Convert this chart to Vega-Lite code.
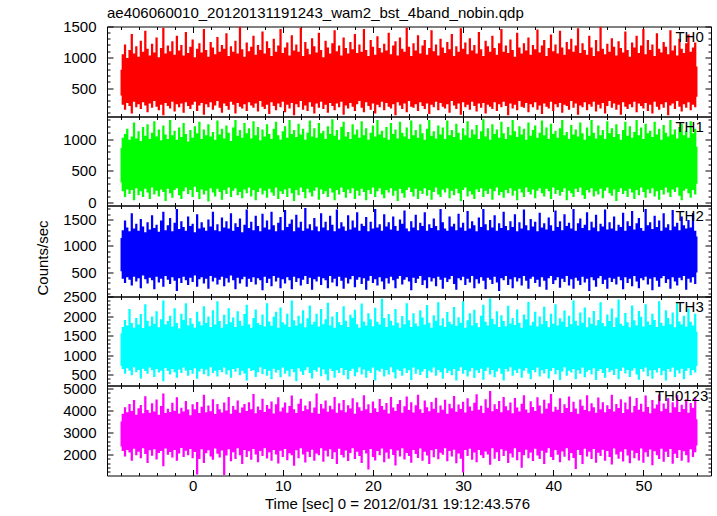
{
"$schema":"https://vega.github.io/schema/vega-lite/v6.json",
"padding":{"left":35,"top":5.5,"right":0,"bottom":0},
"background":"white",
"spacing":0,
"bounds":"flush",
"config":{"font":"Liberation Sans","view":{"stroke":"black","strokeWidth":1},
"axis":{"domain":false,"grid":false,"tickColor":"black","labelColor":"black","labelFontSize":15,"labelFont":"Liberation Sans","titleFont":"Liberation Sans","titleFontSize":15,"titleFontWeight":"normal","titleColor":"black","labelOverlap":false,"labelFlush":false,"zindex":1,"tickWidth":1,"format":"d"}},
"datasets":{"lc":[
{"t":-8,"l0":380,"h0":800,"l1":320,"h1":860,"l2":520,"h2":1150,"l3":720,"h3":1550,"l4":2350,"h4":3500},
{"t":-7.75,"l0":230,"h0":1050,"l1":180,"h1":1020,"l2":380,"h2":1300,"l3":640,"h3":1720,"l4":2150,"h4":3850},
{"t":-7.5,"l0":150,"h0":1210,"l1":90,"h1":1080,"l2":300,"h2":1480,"l3":520,"h3":1900,"l4":1900,"h4":4150},
{"t":-7.25,"l0":260,"h0":990,"l1":210,"h1":1160,"l2":410,"h2":1350,"l3":660,"h3":1760,"l4":2200,"h4":3920},
{"t":-7,"l0":210,"h0":1120,"l1":140,"h1":990,"l2":360,"h2":1280,"l3":600,"h3":2180,"l4":2080,"h4":4300},
{"t":-6.75,"l0":90,"h0":1380,"l1":200,"h1":1040,"l2":250,"h2":1620,"l3":480,"h3":1820,"l4":1700,"h4":3980},
{"t":-6.5,"l0":280,"h0":1060,"l1":40,"h1":1260,"l2":420,"h2":1330,"l3":690,"h3":1700,"l4":2250,"h4":4480},
{"t":-6.25,"l0":190,"h0":1180,"l1":230,"h1":1010,"l2":330,"h2":1420,"l3":560,"h3":1950,"l4":1950,"h4":3800},
{"t":-6,"l0":240,"h0":1010,"l1":120,"h1":1120,"l2":390,"h2":1290,"l3":620,"h3":1780,"l4":2120,"h4":4100},
{"t":-5.75,"l0":160,"h0":1270,"l1":180,"h1":970,"l2":200,"h2":1510,"l3":400,"h3":2050,"l4":1820,"h4":4250},
{"t":-5.5,"l0":270,"h0":1090,"l1":90,"h1":1190,"l2":440,"h2":1370,"l3":650,"h3":1690,"l4":2280,"h4":3870},
{"t":-5.25,"l0":220,"h0":1430,"l1":220,"h1":1050,"l2":370,"h2":1260,"l3":590,"h3":2300,"l4":2010,"h4":4650},
{"t":-5,"l0":110,"h0":1140,"l1":160,"h1":1230,"l2":290,"h2":1450,"l3":520,"h3":1880,"l4":1600,"h4":4020},
{"t":-4.75,"l0":250,"h0":1030,"l1":60,"h1":1000,"l2":400,"h2":1310,"l3":680,"h3":1740,"l4":2180,"h4":3900},
{"t":-4.5,"l0":180,"h0":1220,"l1":240,"h1":1100,"l2":350,"h2":1580,"l3":610,"h3":1990,"l4":1930,"h4":4330},
{"t":-4.25,"l0":290,"h0":1080,"l1":130,"h1":1280,"l2":180,"h2":1340,"l3":440,"h3":1800,"l4":2230,"h4":3950},
{"t":-4,"l0":200,"h0":1320,"l1":190,"h1":1040,"l2":420,"h2":1400,"l3":640,"h3":2120,"l4":1760,"h4":4500},
{"t":-3.75,"l0":140,"h0":1000,"l1":100,"h1":1150,"l2":310,"h2":1270,"l3":550,"h3":1710,"l4":2060,"h4":3800},
{"t":-3.5,"l0":230,"h0":1150,"l1":210,"h1":980,"l2":380,"h2":1480,"l3":600,"h3":1920,"l4":2150,"h4":4200},
{"t":-3.25,"l0":60,"h0":1480,"l1":170,"h1":1210,"l2":230,"h2":1650,"l3":330,"h3":2400,"l4":1450,"h4":4780},
{"t":-3,"l0":260,"h0":1060,"l1":30,"h1":1070,"l2":430,"h2":1300,"l3":670,"h3":1780,"l4":2260,"h4":3880},
{"t":-2.75,"l0":210,"h0":1190,"l1":220,"h1":1000,"l2":360,"h2":1390,"l3":590,"h3":1870,"l4":1980,"h4":4080},
{"t":-2.5,"l0":170,"h0":1100,"l1":150,"h1":1300,"l2":280,"h2":1530,"l3":500,"h3":2010,"l4":2100,"h4":3930},
{"t":-2.25,"l0":280,"h0":1260,"l1":80,"h1":1060,"l2":410,"h2":1280,"l3":640,"h3":1730,"l4":1850,"h4":4350},
{"t":-2,"l0":120,"h0":1040,"l1":200,"h1":1130,"l2":340,"h2":1440,"l3":560,"h3":2200,"l4":2200,"h4":3990},
{"t":-1.75,"l0":240,"h0":1350,"l1":230,"h1":990,"l2":150,"h2":1700,"l3":420,"h3":1820,"l4":1700,"h4":4600},
{"t":-1.5,"l0":190,"h0":1110,"l1":120,"h1":1180,"l2":390,"h2":1320,"l3":630,"h3":1680,"l4":2030,"h4":3860},
{"t":-1.25,"l0":250,"h0":1200,"l1":60,"h1":1030,"l2":300,"h2":1470,"l3":540,"h3":2060,"l4":2290,"h4":4120},
{"t":-1,"l0":100,"h0":1030,"l1":180,"h1":1250,"l2":420,"h2":1360,"l3":680,"h3":1900,"l4":1880,"h4":3950},
{"t":-0.75,"l0":270,"h0":1410,"l1":240,"h1":1080,"l2":350,"h2":1290,"l3":600,"h3":2330,"l4":2160,"h4":4430},
{"t":-0.5,"l0":210,"h0":1070,"l1":140,"h1":960,"l2":260,"h2":1560,"l3":470,"h3":1760,"l4":1960,"h4":4040},
{"t":-0.25,"l0":160,"h0":1170,"l1":200,"h1":1140,"l2":400,"h2":1380,"l3":620,"h3":1950,"l4":2240,"h4":3780},
{"t":0,"l0":230,"h0":1290,"l1":90,"h1":1020,"l2":320,"h2":1420,"l3":520,"h3":1800,"l4":1820,"h4":4280},
{"t":0.25,"l0":280,"h0":1000,"l1":250,"h1":1200,"l2":440,"h2":1260,"l3":660,"h3":1700,"l4":2100,"h4":4050},
{"t":0.5,"l0":130,"h0":1140,"l1":170,"h1":1090,"l2":230,"h2":1600,"l3":390,"h3":2110,"l4":1080,"h4":4390},
{"t":0.75,"l0":220,"h0":1230,"l1":60,"h1":1270,"l2":370,"h2":1330,"l3":580,"h3":1860,"l4":1780,"h4":3880},
{"t":1,"l0":260,"h0":1080,"l1":210,"h1":1000,"l2":410,"h2":1450,"l3":650,"h3":1760,"l4":2230,"h4":4170},
{"t":1.25,"l0":70,"h0":1460,"l1":130,"h1":1150,"l2":290,"h2":1350,"l3":510,"h3":2250,"l4":1600,"h4":4720},
{"t":1.5,"l0":240,"h0":1120,"l1":190,"h1":1060,"l2":380,"h2":1290,"l3":630,"h3":1820,"l4":2050,"h4":3920},
{"t":1.75,"l0":190,"h0":1010,"l1":20,"h1":1230,"l2":190,"h2":1500,"l3":460,"h3":1990,"l4":2180,"h4":4230},
{"t":2,"l0":270,"h0":1250,"l1":230,"h1":1040,"l2":430,"h2":1370,"l3":690,"h3":1720,"l4":1900,"h4":3960},
{"t":2.25,"l0":150,"h0":1160,"l1":160,"h1":1110,"l2":330,"h2":1650,"l3":540,"h3":2150,"l4":1750,"h4":4510},
{"t":2.5,"l0":220,"h0":1050,"l1":100,"h1":990,"l2":400,"h2":1300,"l3":600,"h3":1780,"l4":2260,"h4":3840},
{"t":2.75,"l0":290,"h0":1330,"l1":220,"h1":1290,"l2":270,"h2":1410,"l3":450,"h3":2380,"l4":2020,"h4":4290},
{"t":3,"l0":180,"h0":1090,"l1":170,"h1":1070,"l2":360,"h2":1280,"l3":620,"h3":1870,"l4":1850,"h4":4060},
{"t":3.25,"l0":100,"h0":1200,"l1":50,"h1":1160,"l2":420,"h2":1540,"l3":560,"h3":1700,"l4":2170,"h4":3910},
{"t":3.5,"l0":250,"h0":1140,"l1":200,"h1":1010,"l2":240,"h2":1350,"l3":680,"h3":2030,"l4":1050,"h4":4360},
{"t":3.75,"l0":210,"h0":1390,"l1":140,"h1":1210,"l2":390,"h2":1470,"l3":500,"h3":1790,"l4":1940,"h4":4000},
{"t":4,"l0":150,"h0":1020,"l1":240,"h1":1100,"l2":310,"h2":1330,"l3":610,"h3":2200,"l4":2230,"h4":4620},
{"t":4.25,"l0":280,"h0":1180,"l1":90,"h1":970,"l2":440,"h2":1620,"l3":420,"h3":1840,"l4":1680,"h4":3850},
{"t":4.5,"l0":230,"h0":1090,"l1":190,"h1":1180,"l2":350,"h2":1290,"l3":640,"h3":1960,"l4":2090,"h4":4200},
{"t":4.75,"l0":90,"h0":1270,"l1":230,"h1":1300,"l2":180,"h2":1430,"l3":570,"h3":1720,"l4":1780,"h4":4030},
{"t":5,"l0":260,"h0":1060,"l1":120,"h1":1050,"l2":400,"h2":1360,"l3":670,"h3":2120,"l4":2270,"h4":4450},
{"t":5.25,"l0":200,"h0":1490,"l1":170,"h1":1140,"l2":290,"h2":1520,"l3":480,"h3":1880,"l4":1960,"h4":3900},
{"t":5.5,"l0":170,"h0":1130,"l1":70,"h1":1020,"l2":370,"h2":1260,"l3":600,"h3":1750,"l4":1550,"h4":4130},
{"t":5.75,"l0":240,"h0":1010,"l1":210,"h1":1250,"l2":420,"h2":1400,"l3":530,"h3":2050,"l4":2200,"h4":4290},
{"t":6,"l0":130,"h0":1240,"l1":150,"h1":1090,"l2":230,"h2":1690,"l3":350,"h3":2290,"l4":1870,"h4":3980},
{"t":6.25,"l0":270,"h0":1100,"l1":240,"h1":1170,"l2":380,"h2":1340,"l3":660,"h3":1790,"l4":2140,"h4":4370},
{"t":6.5,"l0":220,"h0":1170,"l1":100,"h1":1010,"l2":320,"h2":1460,"l3":590,"h3":1700,"l4":1750,"h4":4060},
{"t":6.75,"l0":180,"h0":1350,"l1":200,"h1":1280,"l2":410,"h2":1300,"l3":620,"h3":1950,"l4":2240,"h4":4750},
{"t":7,"l0":250,"h0":1040,"l1":40,"h1":1060,"l2":270,"h2":1570,"l3":440,"h3":2170,"l4":1990,"h4":3870},
{"t":7.25,"l0":120,"h0":1200,"l1":170,"h1":1190,"l2":390,"h2":1380,"l3":560,"h3":1820,"l4":1640,"h4":4180},
{"t":7.5,"l0":290,"h0":1120,"l1":230,"h1":980,"l2":350,"h2":1280,"l3":690,"h3":1770,"l4":2150,"h4":4020},
{"t":7.75,"l0":200,"h0":1420,"l1":130,"h1":1150,"l2":160,"h2":1610,"l3":510,"h3":2040,"l4":1920,"h4":4540},
{"t":8,"l0":160,"h0":1060,"l1":190,"h1":1040,"l2":420,"h2":1350,"l3":640,"h3":1730,"l4":2280,"h4":3930},
{"t":8.25,"l0":230,"h0":1260,"l1":80,"h1":1230,"l2":300,"h2":1480,"l3":470,"h3":2330,"l4":1810,"h4":4250},
{"t":8.5,"l0":80,"h0":1150,"l1":220,"h1":1080,"l2":380,"h2":1310,"l3":600,"h3":1860,"l4":2090,"h4":4080},
{"t":8.75,"l0":270,"h0":1020,"l1":160,"h1":1000,"l2":240,"h2":1650,"l3":380,"h3":1750,"l4":1700,"h4":4410},
{"t":9,"l0":210,"h0":1300,"l1":110,"h1":1160,"l2":430,"h2":1390,"l3":650,"h3":1980,"l4":2200,"h4":3860},
{"t":9.25,"l0":140,"h0":1090,"l1":240,"h1":1270,"l2":330,"h2":1280,"l3":550,"h3":2110,"l4":1990,"h4":4280},
{"t":9.5,"l0":250,"h0":1190,"l1":60,"h1":1060,"l2":400,"h2":1440,"l3":620,"h3":1700,"l4":1580,"h4":4600},
{"t":9.75,"l0":190,"h0":1460,"l1":180,"h1":990,"l2":200,"h2":1550,"l3":430,"h3":2220,"l4":2160,"h4":3950},
{"t":10,"l0":280,"h0":1070,"l1":140,"h1":1120,"l2":370,"h2":1300,"l3":680,"h3":1840,"l4":1870,"h4":4140},
{"t":10.25,"l0":110,"h0":1160,"l1":210,"h1":1200,"l2":290,"h2":1680,"l3":520,"h3":1780,"l4":2240,"h4":4360},
{"t":10.5,"l0":230,"h0":1240,"l1":90,"h1":1020,"l2":410,"h2":1360,"l3":600,"h3":2060,"l4":1730,"h4":3900},
{"t":10.75,"l0":170,"h0":1030,"l1":230,"h1":1300,"l2":350,"h2":1420,"l3":450,"h3":1720,"l4":2050,"h4":4200},
{"t":11,"l0":260,"h0":1360,"l1":150,"h1":1080,"l2":180,"h2":1500,"l3":640,"h3":2400,"l4":1950,"h4":4680},
{"t":11.25,"l0":60,"h0":1110,"l1":30,"h1":1140,"l2":420,"h2":1280,"l3":560,"h3":1890,"l4":1480,"h4":4050},
{"t":11.5,"l0":240,"h0":1210,"l1":200,"h1":1030,"l2":320,"h2":1590,"l3":330,"h3":1760,"l4":2180,"h4":3880},
{"t":11.75,"l0":190,"h0":1090,"l1":120,"h1":1240,"l2":390,"h2":1350,"l3":660,"h3":2010,"l4":1820,"h4":4310},
{"t":12,"l0":290,"h0":1480,"l1":240,"h1":1070,"l2":250,"h2":1460,"l3":580,"h3":1810,"l4":2270,"h4":4540},
{"t":12.25,"l0":150,"h0":1020,"l1":170,"h1":1160,"l2":360,"h2":1290,"l3":490,"h3":2150,"l4":1990,"h4":3970},
{"t":12.5,"l0":220,"h0":1250,"l1":70,"h1":990,"l2":430,"h2":1720,"l3":610,"h3":1710,"l4":1620,"h4":4230},
{"t":12.75,"l0":130,"h0":1140,"l1":220,"h1":1100,"l2":280,"h2":1330,"l3":690,"h3":1940,"l4":2120,"h4":4050},
{"t":13,"l0":270,"h0":1050,"l1":160,"h1":1290,"l2":400,"h2":1410,"l3":540,"h3":2270,"l4":1880,"h4":4420},
{"t":13.25,"l0":200,"h0":1310,"l1":100,"h1":1040,"l2":170,"h2":1300,"l3":400,"h3":1780,"l4":2210,"h4":3900},
{"t":13.5,"l0":90,"h0":1180,"l1":190,"h1":1170,"l2":370,"h2":1530,"l3":620,"h3":1850,"l4":1700,"h4":4130},
{"t":13.75,"l0":250,"h0":1080,"l1":240,"h1":1020,"l2":330,"h2":1370,"l3":570,"h3":2060,"l4":2040,"h4":4780},
{"t":14,"l0":180,"h0":1400,"l1":50,"h1":1250,"l2":420,"h2":1280,"l3":680,"h3":1730,"l4":1950,"h4":3850},
{"t":14.25,"l0":280,"h0":1120,"l1":210,"h1":1090,"l2":260,"h2":1620,"l3":460,"h3":2180,"l4":2280,"h4":4300},
{"t":14.5,"l0":160,"h0":1000,"l1":140,"h1":1130,"l2":390,"h2":1350,"l3":630,"h3":1790,"l4":1660,"h4":4090},
{"t":14.75,"l0":230,"h0":1270,"l1":180,"h1":1000,"l2":350,"h2":1460,"l3":510,"h3":1920,"l4":2160,"h4":4450},
{"t":15,"l0":100,"h0":1160,"l1":90,"h1":1200,"l2":200,"h2":1300,"l3":350,"h3":2340,"l4":1900,"h4":3940},
{"t":15.25,"l0":260,"h0":1060,"l1":230,"h1":1080,"l2":430,"h2":1570,"l3":650,"h3":1760,"l4":2230,"h4":4210},
{"t":15.5,"l0":210,"h0":1230,"l1":160,"h1":1310,"l2":310,"h2":1400,"l3":590,"h3":1990,"l4":1780,"h4":4060},
{"t":15.75,"l0":140,"h0":1440,"l1":40,"h1":1050,"l2":380,"h2":1280,"l3":420,"h3":1700,"l4":2090,"h4":4620},
{"t":16,"l0":250,"h0":1100,"l1":200,"h1":1140,"l2":240,"h2":1690,"l3":610,"h3":2100,"l4":1560,"h4":3890},
{"t":16.25,"l0":190,"h0":1190,"l1":130,"h1":990,"l2":420,"h2":1330,"l3":540,"h3":1840,"l4":2250,"h4":4330},
{"t":16.5,"l0":280,"h0":1030,"l1":240,"h1":1190,"l2":340,"h2":1450,"l3":670,"h3":1770,"l4":1970,"h4":4010},
{"t":16.75,"l0":70,"h0":1320,"l1":170,"h1":1270,"l2":190,"h2":1370,"l3":480,"h3":2250,"l4":1850,"h4":4480},
{"t":17,"l0":220,"h0":1150,"l1":80,"h1":1040,"l2":400,"h2":1290,"l3":620,"h3":1880,"l4":2170,"h4":3920},
{"t":17.25,"l0":170,"h0":1060,"l1":210,"h1":1110,"l2":290,"h2":1580,"l3":380,"h3":1720,"l4":1690,"h4":4240},
{"t":17.5,"l0":260,"h0":1250,"l1":150,"h1":1000,"l2":370,"h2":1310,"l3":590,"h3":2030,"l4":2060,"h4":4090},
{"t":17.75,"l0":200,"h0":1130,"l1":230,"h1":1230,"l2":430,"h2":1480,"l3":650,"h3":1950,"l4":2270,"h4":4560},
{"t":18,"l0":130,"h0":1380,"l1":60,"h1":1070,"l2":220,"h2":1350,"l3":460,"h3":2160,"l4":1780,"h4":3850},
{"t":18.25,"l0":240,"h0":1070,"l1":190,"h1":1150,"l2":360,"h2":1640,"l3":560,"h3":1790,"l4":2110,"h4":4370},
{"t":18.5,"l0":290,"h0":1210,"l1":110,"h1":1020,"l2":410,"h2":1290,"l3":690,"h3":1700,"l4":1920,"h4":4150},
{"t":18.75,"l0":180,"h0":1090,"l1":220,"h1":1280,"l2":280,"h2":1420,"l3":500,"h3":2320,"l4":1600,"h4":3990},
{"t":19,"l0":110,"h0":1460,"l1":170,"h1":1060,"l2":390,"h2":1380,"l3":630,"h3":1860,"l4":2190,"h4":4700},
{"t":19.25,"l0":270,"h0":1120,"l1":40,"h1":1170,"l2":170,"h2":1550,"l3":420,"h3":1760,"l4":2030,"h4":4060},
{"t":19.5,"l0":210,"h0":1020,"l1":200,"h1":990,"l2":340,"h2":1280,"l3":600,"h3":2070,"l4":1300,"h4":4280},
{"t":19.75,"l0":150,"h0":1280,"l1":140,"h1":1100,"l2":430,"h2":1460,"l3":540,"h3":1920,"l4":2240,"h4":3880},
{"t":20,"l0":250,"h0":1170,"l1":240,"h1":1210,"l2":300,"h2":1330,"l3":680,"h3":1740,"l4":1870,"h4":4410},
{"t":20.25,"l0":90,"h0":1040,"l1":90,"h1":1040,"l2":370,"h2":1700,"l3":350,"h3":2210,"l4":1720,"h4":4100},
{"t":20.5,"l0":230,"h0":1340,"l1":180,"h1":1300,"l2":250,"h2":1350,"l3":610,"h3":1850,"l4":2150,"h4":3930},
{"t":20.75,"l0":190,"h0":1150,"l1":230,"h1":1070,"l2":410,"h2":1410,"l3":570,"h3":1780,"l4":1950,"h4":4520},
{"t":21,"l0":280,"h0":1080,"l1":130,"h1":1130,"l2":330,"h2":1290,"l3":650,"h3":2440,"l4":2260,"h4":4200},
{"t":21.25,"l0":140,"h0":1220,"l1":70,"h1":1020,"l2":180,"h2":1600,"l3":450,"h3":1950,"l4":1640,"h4":4030},
{"t":21.5,"l0":260,"h0":1110,"l1":200,"h1":1190,"l2":390,"h2":1370,"l3":620,"h3":1720,"l4":2080,"h4":4340},
{"t":21.75,"l0":200,"h0":1400,"l1":160,"h1":990,"l2":290,"h2":1450,"l3":500,"h3":2050,"l4":1800,"h4":3860},
{"t":22,"l0":170,"h0":1050,"l1":230,"h1":1250,"l2":420,"h2":1310,"l3":690,"h3":1880,"l4":2230,"h4":4610},
{"t":22.25,"l0":240,"h0":1190,"l1":110,"h1":1080,"l2":350,"h2":1560,"l3":560,"h3":1760,"l4":1970,"h4":4140},
{"t":22.5,"l0":60,"h0":1260,"l1":190,"h1":1150,"l2":200,"h2":1380,"l3":400,"h3":2180,"l4":1490,"h4":3970},
{"t":22.75,"l0":270,"h0":1030,"l1":30,"h1":1010,"l2":380,"h2":1290,"l3":630,"h3":1830,"l4":2170,"h4":4300},
{"t":23,"l0":220,"h0":1320,"l1":220,"h1":1270,"l2":430,"h2":1500,"l3":590,"h3":1700,"l4":1900,"h4":4480},
{"t":23.25,"l0":160,"h0":1140,"l1":150,"h1":1100,"l2":270,"h2":1420,"l3":470,"h3":2000,"l4":2280,"h4":3890},
{"t":23.5,"l0":250,"h0":1090,"l1":80,"h1":1040,"l2":360,"h2":1670,"l3":660,"h3":1790,"l4":1760,"h4":4190},
{"t":23.75,"l0":110,"h0":1480,"l1":200,"h1":1180,"l2":410,"h2":1330,"l3":540,"h3":2330,"l4":2060,"h4":4640},
{"t":24,"l0":290,"h0":1170,"l1":240,"h1":1000,"l2":330,"h2":1280,"l3":610,"h3":1890,"l4":1920,"h4":4020},
{"t":24.25,"l0":200,"h0":1020,"l1":170,"h1":1290,"l2":160,"h2":1470,"l3":360,"h3":1720,"l4":1610,"h4":4370},
{"t":24.5,"l0":180,"h0":1230,"l1":100,"h1":1060,"l2":400,"h2":1350,"l3":680,"h3":2070,"l4":2200,"h4":3910},
{"t":24.75,"l0":240,"h0":1110,"l1":220,"h1":1140,"l2":300,"h2":1590,"l3":520,"h3":1810,"l4":2010,"h4":4240},
{"t":25,"l0":130,"h0":1360,"l1":60,"h1":1020,"l2":380,"h2":1300,"l3":630,"h3":1740,"l4":1830,"h4":4720},
{"t":25.25,"l0":270,"h0":1060,"l1":190,"h1":1230,"l2":430,"h2":1440,"l3":490,"h3":2150,"l4":2260,"h4":4060},
{"t":25.5,"l0":210,"h0":1190,"l1":140,"h1":1090,"l2":260,"h2":1380,"l3":580,"h3":1960,"l4":1700,"h4":3880},
{"t":25.75,"l0":160,"h0":1280,"l1":230,"h1":990,"l2":350,"h2":1640,"l3":640,"h3":1780,"l4":2110,"h4":4460},
{"t":26,"l0":250,"h0":1040,"l1":110,"h1":1160,"l2":200,"h2":1290,"l3":410,"h3":2280,"l4":1940,"h4":4150},
{"t":26.25,"l0":80,"h0":1150,"l1":200,"h1":1300,"l2":410,"h2":1410,"l3":600,"h3":1830,"l4":1550,"h4":3960},
{"t":26.5,"l0":230,"h0":1440,"l1":50,"h1":1050,"l2":330,"h2":1340,"l3":550,"h3":1700,"l4":2180,"h4":4390},
{"t":26.75,"l0":190,"h0":1100,"l1":170,"h1":1120,"l2":390,"h2":1520,"l3":680,"h3":2020,"l4":1860,"h4":4080},
{"t":27,"l0":280,"h0":1210,"l1":240,"h1":1010,"l2":240,"h2":1380,"l3":470,"h3":1880,"l4":2240,"h4":4580},
{"t":27.25,"l0":140,"h0":1030,"l1":130,"h1":1210,"l2":420,"h2":1300,"l3":620,"h3":2350,"l4":1770,"h4":3900},
{"t":27.5,"l0":260,"h0":1300,"l1":90,"h1":1070,"l2":360,"h2":1700,"l3":560,"h3":1760,"l4":2070,"h4":4230},
{"t":27.75,"l0":200,"h0":1160,"l1":210,"h1":1180,"l2":190,"h2":1450,"l3":390,"h3":1940,"l4":1980,"h4":4030},
{"t":28,"l0":170,"h0":1070,"l1":160,"h1":1000,"l2":400,"h2":1330,"l3":660,"h3":1720,"l4":2280,"h4":4490},
{"t":28.25,"l0":240,"h0":1250,"l1":230,"h1":1290,"l2":320,"h2":1290,"l3":540,"h3":2100,"l4":1680,"h4":3850},
{"t":28.5,"l0":100,"h0":1130,"l1":70,"h1":1060,"l2":370,"h2":1560,"l3":600,"h3":1850,"l4":2150,"h4":4310},
{"t":28.75,"l0":290,"h0":1380,"l1":190,"h1":1140,"l2":430,"h2":1370,"l3":480,"h3":1790,"l4":1900,"h4":4100},
{"t":29,"l0":220,"h0":1020,"l1":120,"h1":1030,"l2":280,"h2":1420,"l3":640,"h3":2230,"l4":2210,"h4":4660},
{"t":29.25,"l0":160,"h0":1180,"l1":220,"h1":1240,"l2":170,"h2":1300,"l3":350,"h3":1750,"l4":1590,"h4":3940},
{"t":29.5,"l0":250,"h0":1090,"l1":150,"h1":1100,"l2":390,"h2":1610,"l3":590,"h3":1970,"l4":2030,"h4":4270},
{"t":29.75,"l0":70,"h0":1470,"l1":30,"h1":990,"l2":350,"h2":1350,"l3":690,"h3":1830,"l4":1800,"h4":4070},
{"t":30,"l0":270,"h0":1140,"l1":200,"h1":1170,"l2":420,"h2":1440,"l3":520,"h3":2380,"l4":1170,"h4":4400},
{"t":30.25,"l0":190,"h0":1240,"l1":240,"h1":1060,"l2":260,"h2":1290,"l3":620,"h3":1700,"l4":2190,"h4":3910},
{"t":30.5,"l0":230,"h0":1050,"l1":100,"h1":1280,"l2":380,"h2":1660,"l3":450,"h3":1890,"l4":1920,"h4":4560},
{"t":30.75,"l0":150,"h0":1310,"l1":180,"h1":1020,"l2":310,"h2":1330,"l3":580,"h3":2070,"l4":2250,"h4":4180},
{"t":31,"l0":280,"h0":1110,"l1":130,"h1":1150,"l2":430,"h2":1470,"l3":670,"h3":1760,"l4":1750,"h4":3990},
{"t":31.25,"l0":210,"h0":1200,"l1":60,"h1":1070,"l2":200,"h2":1390,"l3":410,"h3":2160,"l4":2080,"h4":4350},
{"t":31.5,"l0":120,"h0":1060,"l1":210,"h1":1220,"l2":370,"h2":1280,"l3":610,"h3":1820,"l4":1640,"h4":4740},
{"t":31.75,"l0":250,"h0":1410,"l1":170,"h1":1000,"l2":290,"h2":1540,"l3":540,"h3":1710,"l4":2200,"h4":4030},
{"t":32,"l0":180,"h0":1130,"l1":230,"h1":1120,"l2":410,"h2":1360,"l3":650,"h3":2010,"l4":1950,"h4":4220},
{"t":32.25,"l0":260,"h0":1020,"l1":90,"h1":1310,"l2":340,"h2":1700,"l3":370,"h3":2290,"l4":1830,"h4":3880},
{"t":32.5,"l0":90,"h0":1270,"l1":190,"h1":1040,"l2":180,"h2":1410,"l3":590,"h3":1850,"l4":2130,"h4":4510},
{"t":32.75,"l0":230,"h0":1180,"l1":140,"h1":1170,"l2":400,"h2":1300,"l3":680,"h3":1760,"l4":1990,"h4":4120},
{"t":33,"l0":200,"h0":1090,"l1":220,"h1":990,"l2":360,"h2":1490,"l3":500,"h3":2450,"l4":1520,"h4":4890},
{"t":33.25,"l0":160,"h0":1350,"l1":50,"h1":1230,"l2":280,"h2":1350,"l3":620,"h3":1930,"l4":2270,"h4":3960},
{"t":33.5,"l0":270,"h0":1150,"l1":180,"h1":1080,"l2":420,"h2":1580,"l3":430,"h3":1790,"l4":1800,"h4":4280},
{"t":33.75,"l0":130,"h0":1040,"l1":240,"h1":1150,"l2":310,"h2":1290,"l3":580,"h3":2120,"l4":2090,"h4":4070},
{"t":34,"l0":240,"h0":1230,"l1":120,"h1":1020,"l2":150,"h2":1430,"l3":660,"h3":1720,"l4":1690,"h4":4430},
{"t":34.25,"l0":190,"h0":1460,"l1":170,"h1":1270,"l2":390,"h2":1340,"l3":520,"h3":2020,"l4":2230,"h4":3920},
{"t":34.5,"l0":280,"h0":1090,"l1":80,"h1":1090,"l2":350,"h2":1650,"l3":350,"h3":1870,"l4":1920,"h4":4620},
{"t":34.75,"l0":210,"h0":1190,"l1":200,"h1":1000,"l2":430,"h2":1380,"l3":640,"h3":1740,"l4":2160,"h4":4190},
{"t":35,"l0":60,"h0":1070,"l1":150,"h1":1190,"l2":260,"h2":1300,"l3":580,"h3":2260,"l4":1600,"h4":4010},
{"t":35.25,"l0":250,"h0":1290,"l1":230,"h1":1060,"l2":370,"h2":1470,"l3":690,"h3":1810,"l4":2040,"h4":4360},
{"t":35.5,"l0":170,"h0":1120,"l1":110,"h1":1300,"l2":200,"h2":1360,"l3":470,"h3":1950,"l4":1850,"h4":3870},
{"t":35.75,"l0":230,"h0":1010,"l1":190,"h1":1120,"l2":410,"h2":1600,"l3":610,"h3":1770,"l4":2270,"h4":4570},
{"t":36,"l0":140,"h0":1400,"l1":40,"h1":1030,"l2":330,"h2":1280,"l3":540,"h3":2170,"l4":1730,"h4":4130},
{"t":36.25,"l0":290,"h0":1160,"l1":220,"h1":1200,"l2":390,"h2":1450,"l3":650,"h3":1830,"l4":2100,"h4":3950},
{"t":36.5,"l0":200,"h0":1060,"l1":160,"h1":1070,"l2":250,"h2":1330,"l3":420,"h3":1700,"l4":1380,"h4":4310},
{"t":36.75,"l0":180,"h0":1230,"l1":90,"h1":1160,"l2":430,"h2":1690,"l3":600,"h3":2040,"l4":1960,"h4":4700},
{"t":37,"l0":260,"h0":1110,"l1":240,"h1":990,"l2":340,"h2":1390,"l3":670,"h3":1910,"l4":2210,"h4":4040},
{"t":37.25,"l0":110,"h0":1320,"l1":170,"h1":1260,"l2":190,"h2":1300,"l3":530,"h3":2360,"l4":1820,"h4":3900},
{"t":37.5,"l0":240,"h0":1040,"l1":130,"h1":1050,"l2":380,"h2":1510,"l3":380,"h3":1760,"l4":2080,"h4":4420},
{"t":37.75,"l0":190,"h0":1200,"l1":210,"h1":1140,"l2":420,"h2":1370,"l3":620,"h3":1850,"l4":1690,"h4":4160},
{"t":38,"l0":270,"h0":1130,"l1":70,"h1":1210,"l2":300,"h2":1460,"l3":560,"h3":2110,"l4":2250,"h4":3980},
{"t":38.25,"l0":150,"h0":1450,"l1":190,"h1":1020,"l2":360,"h2":1280,"l3":680,"h3":1730,"l4":1940,"h4":4600},
{"t":38.5,"l0":220,"h0":1080,"l1":230,"h1":1100,"l2":230,"h2":1630,"l3":450,"h3":1990,"l4":1780,"h4":4230},
{"t":38.75,"l0":80,"h0":1190,"l1":150,"h1":1290,"l2":410,"h2":1350,"l3":610,"h3":1790,"l4":2160,"h4":3860},
{"t":39,"l0":250,"h0":1280,"l1":100,"h1":1060,"l2":340,"h2":1430,"l3":530,"h3":2240,"l4":1560,"h4":4490},
{"t":39.25,"l0":200,"h0":1020,"l1":220,"h1":1180,"l2":170,"h2":1310,"l3":640,"h3":1870,"l4":2070,"h4":4080},
{"t":39.5,"l0":170,"h0":1150,"l1":180,"h1":1000,"l2":390,"h2":1540,"l3":400,"h3":1710,"l4":2270,"h4":4330},
{"t":39.75,"l0":280,"h0":1370,"l1":60,"h1":1240,"l2":430,"h2":1390,"l3":590,"h3":2060,"l4":1870,"h4":4750},
{"t":40,"l0":130,"h0":1100,"l1":240,"h1":1080,"l2":280,"h2":1290,"l3":670,"h3":1800,"l4":1740,"h4":3940},
{"t":40.25,"l0":240,"h0":1210,"l1":140,"h1":1130,"l2":350,"h2":1670,"l3":510,"h3":2300,"l4":2200,"h4":4170},
{"t":40.5,"l0":190,"h0":1060,"l1":200,"h1":1020,"l2":410,"h2":1360,"l3":620,"h3":1760,"l4":1980,"h4":4030},
{"t":40.75,"l0":260,"h0":1430,"l1":110,"h1":1170,"l2":210,"h2":1470,"l3":360,"h3":1940,"l4":1630,"h4":4560},
{"t":41,"l0":100,"h0":1160,"l1":170,"h1":1300,"l2":380,"h2":1300,"l3":580,"h3":1850,"l4":2130,"h4":3880},
{"t":41.25,"l0":230,"h0":1040,"l1":230,"h1":1060,"l2":320,"h2":1600,"l3":690,"h3":2140,"l4":1890,"h4":4280},
{"t":41.5,"l0":210,"h0":1250,"l1":40,"h1":1110,"l2":430,"h2":1380,"l3":470,"h3":1720,"l4":2270,"h4":4110},
{"t":41.75,"l0":150,"h0":1130,"l1":190,"h1":1000,"l2":250,"h2":1440,"l3":600,"h3":2010,"l4":1720,"h4":4640},
{"t":42,"l0":290,"h0":1300,"l1":150,"h1":1220,"l2":370,"h2":1330,"l3":550,"h3":1790,"l4":2060,"h4":3930},
{"t":42.25,"l0":180,"h0":1090,"l1":90,"h1":1070,"l2":190,"h2":1700,"l3":640,"h3":2400,"l4":1830,"h4":4400},
{"t":42.5,"l0":250,"h0":1190,"l1":220,"h1":1150,"l2":400,"h2":1290,"l3":380,"h3":1880,"l4":1330,"h4":4090},
{"t":42.75,"l0":70,"h0":1470,"l1":170,"h1":1040,"l2":340,"h2":1430,"l3":610,"h3":1760,"l4":2190,"h4":3850},
{"t":43,"l0":220,"h0":1070,"l1":240,"h1":1260,"l2":260,"h2":1520,"l3":520,"h3":2090,"l4":1970,"h4":4500},
{"t":43.25,"l0":190,"h0":1230,"l1":120,"h1":1090,"l2":420,"h2":1340,"l3":680,"h3":1830,"l4":1550,"h4":4210},
{"t":43.5,"l0":270,"h0":1120,"l1":60,"h1":990,"l2":310,"h2":1400,"l3":430,"h3":2220,"l4":2250,"h4":4020},
{"t":43.75,"l0":140,"h0":1040,"l1":200,"h1":1180,"l2":380,"h2":1640,"l3":570,"h3":1710,"l4":1900,"h4":4700},
{"t":44,"l0":240,"h0":1350,"l1":160,"h1":1050,"l2":150,"h2":1300,"l3":620,"h3":1960,"l4":2120,"h4":3960},
{"t":44.25,"l0":200,"h0":1160,"l1":230,"h1":1300,"l2":410,"h2":1460,"l3":500,"h3":1800,"l4":1780,"h4":4330},
{"t":44.5,"l0":280,"h0":1020,"l1":100,"h1":1100,"l2":350,"h2":1350,"l3":660,"h3":2130,"l4":2240,"h4":4150},
{"t":44.75,"l0":120,"h0":1280,"l1":180,"h1":1010,"l2":230,"h2":1590,"l3":360,"h3":1760,"l4":1610,"h4":3890},
{"t":45,"l0":230,"h0":1100,"l1":130,"h1":1210,"l2":390,"h2":1280,"l3":590,"h3":1900,"l4":2070,"h4":4590},
{"t":45.25,"l0":170,"h0":1490,"l1":220,"h1":1060,"l2":430,"h2":1420,"l3":640,"h3":2350,"l4":1920,"h4":4060},
{"t":45.5,"l0":260,"h0":1140,"l1":70,"h1":1140,"l2":280,"h2":1370,"l3":540,"h3":1820,"l4":2210,"h4":4380},
{"t":45.75,"l0":90,"h0":1050,"l1":190,"h1":1000,"l2":360,"h2":1690,"l3":420,"h3":1740,"l4":1700,"h4":3920},
{"t":46,"l0":210,"h0":1220,"l1":240,"h1":1280,"l2":190,"h2":1310,"l3":670,"h3":2040,"l4":2150,"h4":4240},
{"t":46.25,"l0":290,"h0":1090,"l1":150,"h1":1090,"l2":400,"h2":1450,"l3":560,"h3":1870,"l4":1880,"h4":4070},
{"t":46.5,"l0":180,"h0":1310,"l1":110,"h1":1170,"l2":320,"h2":1330,"l3":610,"h3":2190,"l4":1530,"h4":4720},
{"t":46.75,"l0":250,"h0":1170,"l1":210,"h1":1030,"l2":380,"h2":1560,"l3":490,"h3":1720,"l4":2260,"h4":3950},
{"t":47,"l0":150,"h0":1030,"l1":30,"h1":1230,"l2":270,"h2":1290,"l3":650,"h3":1960,"l4":1990,"h4":4290},
{"t":47.25,"l0":230,"h0":1260,"l1":170,"h1":1080,"l2":420,"h2":1400,"l3":380,"h3":2420,"l4":1790,"h4":4110},
{"t":47.5,"l0":70,"h0":1150,"l1":230,"h1":990,"l2":350,"h2":1360,"l3":590,"h3":1800,"l4":2120,"h4":4510},
{"t":47.75,"l0":270,"h0":1080,"l1":140,"h1":1140,"l2":180,"h2":1630,"l3":680,"h3":1750,"l4":1670,"h4":3880},
{"t":48,"l0":200,"h0":1420,"l1":190,"h1":1270,"l2":410,"h2":1290,"l3":530,"h3":2080,"l4":2230,"h4":4360},
{"t":48.25,"l0":160,"h0":1120,"l1":90,"h1":1050,"l2":300,"h2":1470,"l3":620,"h3":1840,"l4":1940,"h4":4050},
{"t":48.5,"l0":240,"h0":1010,"l1":220,"h1":1200,"l2":380,"h2":1380,"l3":440,"h3":1710,"l4":1590,"h4":4640},
{"t":48.75,"l0":190,"h0":1240,"l1":160,"h1":1020,"l2":240,"h2":1660,"l3":600,"h3":2270,"l4":2170,"h4":3910},
{"t":49,"l0":280,"h0":1160,"l1":60,"h1":1110,"l2":430,"h2":1310,"l3":660,"h3":1890,"l4":1820,"h4":4200},
{"t":49.25,"l0":110,"h0":1350,"l1":200,"h1":1300,"l2":330,"h2":1430,"l3":500,"h3":1760,"l4":2060,"h4":4570},
{"t":49.5,"l0":250,"h0":1070,"l1":120,"h1":1060,"l2":200,"h2":1530,"l3":370,"h3":2130,"l4":1720,"h4":4030},
{"t":49.75,"l0":210,"h0":1190,"l1":240,"h1":1180,"l2":390,"h2":1340,"l3":640,"h3":1980,"l4":2260,"h4":4310},
{"t":50,"l0":170,"h0":1460,"l1":170,"h1":1000,"l2":350,"h2":1290,"l3":570,"h3":1730,"l4":1610,"h4":3940},
{"t":50.25,"l0":260,"h0":1050,"l1":80,"h1":1240,"l2":420,"h2":1700,"l3":680,"h3":2300,"l4":2090,"h4":4680},
{"t":50.5,"l0":130,"h0":1280,"l1":210,"h1":1090,"l2":270,"h2":1390,"l3":460,"h3":1860,"l4":1890,"h4":4160},
{"t":50.75,"l0":230,"h0":1120,"l1":150,"h1":1130,"l2":380,"h2":1450,"l3":610,"h3":1770,"l4":2220,"h4":3870},
{"t":51,"l0":90,"h0":1210,"l1":230,"h1":1030,"l2":160,"h2":1320,"l3":390,"h3":2060,"l4":1500,"h4":4480},
{"t":51.25,"l0":280,"h0":1020,"l1":100,"h1":1270,"l2":410,"h2":1570,"l3":620,"h3":1900,"l4":2140,"h4":4090},
{"t":51.5,"l0":200,"h0":1390,"l1":180,"h1":1070,"l2":340,"h2":1360,"l3":550,"h3":1720,"l4":1960,"h4":4270},
{"t":51.75,"l0":150,"h0":1140,"l1":50,"h1":1160,"l2":230,"h2":1480,"l3":670,"h3":2380,"l4":1780,"h4":4730},
{"t":52,"l0":240,"h0":1080,"l1":200,"h1":990,"l2":390,"h2":1290,"l3":480,"h3":1830,"l4":2250,"h4":3960},
{"t":52.25,"l0":180,"h0":1250,"l1":130,"h1":1220,"l2":430,"h2":1620,"l3":600,"h3":1750,"l4":1660,"h4":4320},
{"t":52.5,"l0":270,"h0":1170,"l1":240,"h1":1100,"l2":300,"h2":1350,"l3":350,"h3":2150,"l4":2110,"h4":4080},
{"t":52.75,"l0":60,"h0":1050,"l1":160,"h1":1040,"l2":370,"h2":1410,"l3":640,"h3":1950,"l4":1880,"h4":4560},
{"t":53,"l0":220,"h0":1440,"l1":90,"h1":1300,"l2":190,"h2":1300,"l3":570,"h3":1790,"l4":2240,"h4":3900},
{"t":53.25,"l0":250,"h0":1110,"l1":210,"h1":1070,"l2":410,"h2":1680,"l3":680,"h3":2090,"l4":1570,"h4":4380},
{"t":53.5,"l0":160,"h0":1190,"l1":170,"h1":1150,"l2":330,"h2":1370,"l3":440,"h3":1710,"l4":2020,"h4":4150},
{"t":53.75,"l0":290,"h0":1030,"l1":240,"h1":1010,"l2":250,"h2":1440,"l3":610,"h3":2340,"l4":1830,"h4":4690},
{"t":54,"l0":200,"h0":1300,"l1":110,"h1":1190,"l2":400,"h2":1300,"l3":530,"h3":1860,"l4":2190,"h4":3930},
{"t":54.25,"l0":120,"h0":1140,"l1":40,"h1":1240,"l2":350,"h2":1560,"l3":650,"h3":1780,"l4":1700,"h4":4260},
{"t":54.5,"l0":240,"h0":1070,"l1":190,"h1":1060,"l2":430,"h2":1390,"l3":380,"h3":2010,"l4":2140,"h4":4070},
{"t":54.75,"l0":180,"h0":1230,"l1":220,"h1":1130,"l2":170,"h2":1330,"l3":590,"h3":1730,"l4":1950,"h4":4510},
{"t":55,"l0":270,"h0":1370,"l1":150,"h1":1020,"l2":380,"h2":1490,"l3":660,"h3":2190,"l4":1620,"h4":3890},
{"t":55.25,"l0":140,"h0":1090,"l1":80,"h1":1280,"l2":310,"h2":1350,"l3":480,"h3":1850,"l4":2230,"h4":4340},
{"t":55.5,"l0":230,"h0":1160,"l1":200,"h1":1090,"l2":410,"h2":1620,"l3":620,"h3":1760,"l4":1870,"h4":4120},
{"t":55.75,"l0":190,"h0":1240,"l1":130,"h1":1160,"l2":280,"h2":1290,"l3":550,"h3":2060,"l4":2090,"h4":4590},
{"t":56,"l0":360,"h0":850,"l1":300,"h1":880,"l2":500,"h2":1180,"l3":720,"h3":1600,"l4":2400,"h4":3600}
],
"labels":[{"p":"TH0"},{"p":"TH1"},{"p":"TH2"},{"p":"TH3"},{"p":"TH0123"}]},
"vconcat":[
{"width":604,"height":90,
"title":{"text":"ae406060010_20120131191243_wam2_bst_4band_nobin.qdp","anchor":"start","frame":"group","font":"Liberation Sans","fontSize":15,"fontWeight":"normal","color":"black","offset":-13.5,"baseline":"alphabetic"},
"layer":[
{"data":{"name":"lc"},"mark":{"type":"area","color":"#ff0000","interpolate":"step","clip":true},
"encoding":{"x":{"field":"t","type":"quantitative","scale":{"domain":[-9.5,57.5],"nice":false,"zero":false},"axis":{"orient":"bottom","values":[-8,-6,-4,-2,0,2,4,6,8,10,12,14,16,18,20,22,24,26,28,30,32,34,36,38,40,42,44,46,48,50,52,54,56],"labels":false,"tickSize":{"condition":{"test":"datum.value % 10 === 0","value":-6},"value":-3},"title":null}},
"y":{"field":"l0","type":"quantitative","scale":{"domain":[40,1500],"nice":false,"zero":false},"axis":{"orient":"left","values":[100,200,300,400,500,600,700,800,900,1000,1100,1200,1300,1400,1500],"labelExpr":"datum.value % 500 === 0 ? datum.label : ''","tickSize":{"condition":{"test":"datum.value % 500 === 0","value":-6},"value":-3},"labelPadding":17,"title":null}},
"y2":{"field":"h0"}}},
{"data":{"name":"labels"},"transform":[{"filter":"datum.p === 'TH0'"}],"mark":{"type":"text","align":"right","baseline":"alphabetic","fontSize":15,"font":"Liberation Sans","color":"black"},
"encoding":{"x":{"datum":56.7,"type":"quantitative","scale":{"domain":[-9.5,57.5],"nice":false,"zero":false},"axis":{"orient":"top","values":[-8,-6,-4,-2,0,2,4,6,8,10,12,14,16,18,20,22,24,26,28,30,32,34,36,38,40,42,44,46,48,50,52,54,56],"labels":false,"tickSize":{"condition":{"test":"datum.value % 10 === 0","value":-6},"value":-3},"title":null}},
"y":{"datum":1249,"type":"quantitative","scale":{"domain":[40,1500],"nice":false,"zero":false},"axis":{"orient":"right","values":[100,200,300,400,500,600,700,800,900,1000,1100,1200,1300,1400,1500],"labels":false,"tickSize":{"condition":{"test":"datum.value % 500 === 0","value":-6},"value":-3},"title":null}},
"text":{"field":"p"}}}],
"resolve":{"axis":{"x":"independent","y":"independent"}}},
{"width":604,"height":89,
"layer":[
{"data":{"name":"lc"},"mark":{"type":"area","color":"#00ff00","interpolate":"step","clip":true},
"encoding":{"x":{"field":"t","type":"quantitative","scale":{"domain":[-9.5,57.5],"nice":false,"zero":false},"axis":{"orient":"bottom","values":[-8,-6,-4,-2,0,2,4,6,8,10,12,14,16,18,20,22,24,26,28,30,32,34,36,38,40,42,44,46,48,50,52,54,56],"labels":false,"tickSize":{"condition":{"test":"datum.value % 10 === 0","value":-6},"value":-3},"title":null}},
"y":{"field":"l1","type":"quantitative","scale":{"domain":[-42,1353],"nice":false,"zero":false},"axis":{"orient":"left","values":[0,100,200,300,400,500,600,700,800,900,1000,1100,1200,1300],"labelExpr":"datum.value % 500 === 0 ? datum.label : ''","tickSize":{"condition":{"test":"datum.value % 500 === 0","value":-6},"value":-3},"labelPadding":17,"title":null}},
"y2":{"field":"h1"}}},
{"data":{"name":"labels"},"transform":[{"filter":"datum.p === 'TH1'"}],"mark":{"type":"text","align":"right","baseline":"alphabetic","fontSize":15,"font":"Liberation Sans","color":"black"},
"encoding":{"x":{"datum":56.7,"type":"quantitative","scale":{"domain":[-9.5,57.5],"nice":false,"zero":false},"axis":{"orient":"top","values":[-8,-6,-4,-2,0,2,4,6,8,10,12,14,16,18,20,22,24,26,28,30,32,34,36,38,40,42,44,46,48,50,52,54,56],"labels":false,"tickSize":{"condition":{"test":"datum.value % 10 === 0","value":-6},"value":-3},"title":null}},
"y":{"datum":1110,"type":"quantitative","scale":{"domain":[-42,1353],"nice":false,"zero":false},"axis":{"orient":"right","values":[0,100,200,300,400,500,600,700,800,900,1000,1100,1200,1300],"labels":false,"tickSize":{"condition":{"test":"datum.value % 500 === 0","value":-6},"value":-3},"title":null}},
"text":{"field":"p"}}}],
"resolve":{"axis":{"x":"independent","y":"independent"}}},
{"width":604,"height":91,
"layer":[
{"data":{"name":"lc"},"mark":{"type":"area","color":"#0000ff","interpolate":"step","clip":true},
"encoding":{"x":{"field":"t","type":"quantitative","scale":{"domain":[-9.5,57.5],"nice":false,"zero":false},"axis":{"orient":"bottom","values":[-8,-6,-4,-2,0,2,4,6,8,10,12,14,16,18,20,22,24,26,28,30,32,34,36,38,40,42,44,46,48,50,52,54,56],"labels":false,"tickSize":{"condition":{"test":"datum.value % 10 === 0","value":-6},"value":-3},"title":null}},
"y":{"field":"l2","type":"quantitative","scale":{"domain":[44,1766],"nice":false,"zero":false},"axis":{"orient":"left","values":[100,200,300,400,500,600,700,800,900,1000,1100,1200,1300,1400,1500,1600,1700],"labelExpr":"datum.value % 500 === 0 ? datum.label : ''","tickSize":{"condition":{"test":"datum.value % 500 === 0","value":-6},"value":-3},"labelPadding":17,"title":"Counts/sec","titlePadding":12,"titleY":52}},
"y2":{"field":"h2"}}},
{"data":{"name":"labels"},"transform":[{"filter":"datum.p === 'TH2'"}],"mark":{"type":"text","align":"right","baseline":"alphabetic","fontSize":15,"font":"Liberation Sans","color":"black"},
"encoding":{"x":{"datum":56.7,"type":"quantitative","scale":{"domain":[-9.5,57.5],"nice":false,"zero":false},"axis":{"orient":"top","values":[-8,-6,-4,-2,0,2,4,6,8,10,12,14,16,18,20,22,24,26,28,30,32,34,36,38,40,42,44,46,48,50,52,54,56],"labels":false,"tickSize":{"condition":{"test":"datum.value % 10 === 0","value":-6},"value":-3},"title":null}},
"y":{"datum":1473,"type":"quantitative","scale":{"domain":[44,1766],"nice":false,"zero":false},"axis":{"orient":"right","values":[100,200,300,400,500,600,700,800,900,1000,1100,1200,1300,1400,1500,1600,1700],"labels":false,"tickSize":{"condition":{"test":"datum.value % 500 === 0","value":-6},"value":-3},"title":null}},
"text":{"field":"p"}}}],
"resolve":{"axis":{"x":"independent","y":"independent"}}},
{"width":604,"height":89,
"layer":[
{"data":{"name":"lc"},"mark":{"type":"area","color":"#00ffff","interpolate":"step","clip":true},
"encoding":{"x":{"field":"t","type":"quantitative","scale":{"domain":[-9.5,57.5],"nice":false,"zero":false},"axis":{"orient":"bottom","values":[-8,-6,-4,-2,0,2,4,6,8,10,12,14,16,18,20,22,24,26,28,30,32,34,36,38,40,42,44,46,48,50,52,54,56],"labels":false,"tickSize":{"condition":{"test":"datum.value % 10 === 0","value":-6},"value":-3},"title":null}},
"y":{"field":"l3","type":"quantitative","scale":{"domain":[220,2500],"nice":false,"zero":false},"axis":{"orient":"left","values":[300,400,500,600,700,800,900,1000,1100,1200,1300,1400,1500,1600,1700,1800,1900,2000,2100,2200,2300,2400,2500],"labelExpr":"datum.value % 500 === 0 ? datum.label : ''","tickSize":{"condition":{"test":"datum.value % 500 === 0","value":-6},"value":-3},"labelPadding":17,"title":null}},
"y2":{"field":"h3"}}},
{"data":{"name":"labels"},"transform":[{"filter":"datum.p === 'TH3'"}],"mark":{"type":"text","align":"right","baseline":"alphabetic","fontSize":15,"font":"Liberation Sans","color":"black"},
"encoding":{"x":{"datum":56.7,"type":"quantitative","scale":{"domain":[-9.5,57.5],"nice":false,"zero":false},"axis":{"orient":"top","values":[-8,-6,-4,-2,0,2,4,6,8,10,12,14,16,18,20,22,24,26,28,30,32,34,36,38,40,42,44,46,48,50,52,54,56],"labels":false,"tickSize":{"condition":{"test":"datum.value % 10 === 0","value":-6},"value":-3},"title":null}},
"y":{"datum":2103,"type":"quantitative","scale":{"domain":[220,2500],"nice":false,"zero":false},"axis":{"orient":"right","values":[300,400,500,600,700,800,900,1000,1100,1200,1300,1400,1500,1600,1700,1800,1900,2000,2100,2200,2300,2400,2500],"labels":false,"tickSize":{"condition":{"test":"datum.value % 500 === 0","value":-6},"value":-3},"title":null}},
"text":{"field":"p"}}}],
"resolve":{"axis":{"x":"independent","y":"independent"}}},
{"width":604,"height":90,
"layer":[
{"data":{"name":"lc"},"mark":{"type":"area","color":"#ff00ff","interpolate":"step","clip":true},
"encoding":{"x":{"field":"t","type":"quantitative","scale":{"domain":[-9.5,57.5],"nice":false,"zero":false},"axis":{"orient":"bottom","values":[-8,-6,-4,-2,0,2,4,6,8,10,12,14,16,18,20,22,24,26,28,30,32,34,36,38,40,42,44,46,48,50,52,54,56],"labelExpr":"datum.value % 10 === 0 ? datum.label : ''","tickSize":{"condition":{"test":"datum.value % 10 === 0","value":-6},"value":-3},"labelPadding":9,"title":"Time [sec] 0 = 2012/01/31 19:12:43.576","titlePadding":0,"titleX":290}},
"y":{"field":"l4","type":"quantitative","scale":{"domain":[1030,5140],"nice":false,"zero":false},"axis":{"orient":"left","values":[1200,1400,1600,1800,2000,2200,2400,2600,2800,3000,3200,3400,3600,3800,4000,4200,4400,4600,4800,5000],"labelExpr":"datum.value % 1000 === 0 ? datum.label : ''","tickSize":{"condition":{"test":"datum.value % 1000 === 0","value":-6},"value":-3},"labelPadding":17,"title":null}},
"y2":{"field":"h4"}}},
{"data":{"name":"labels"},"transform":[{"filter":"datum.p === 'TH0123'"}],"mark":{"type":"text","align":"right","baseline":"alphabetic","fontSize":15,"font":"Liberation Sans","color":"black"},
"encoding":{"x":{"datum":57.2,"type":"quantitative","scale":{"domain":[-9.5,57.5],"nice":false,"zero":false},"axis":{"orient":"top","values":[-8,-6,-4,-2,0,2,4,6,8,10,12,14,16,18,20,22,24,26,28,30,32,34,36,38,40,42,44,46,48,50,52,54,56],"labels":false,"tickSize":{"condition":{"test":"datum.value % 10 === 0","value":-6},"value":-3},"title":null}},
"y":{"datum":4432,"type":"quantitative","scale":{"domain":[1030,5140],"nice":false,"zero":false},"axis":{"orient":"right","values":[1200,1400,1600,1800,2000,2200,2400,2600,2800,3000,3200,3400,3600,3800,4000,4200,4400,4600,4800,5000],"labels":false,"tickSize":{"condition":{"test":"datum.value % 1000 === 0","value":-6},"value":-3},"title":null}},
"text":{"field":"p"}}}],
"resolve":{"axis":{"x":"independent","y":"independent"}}}
]
}
